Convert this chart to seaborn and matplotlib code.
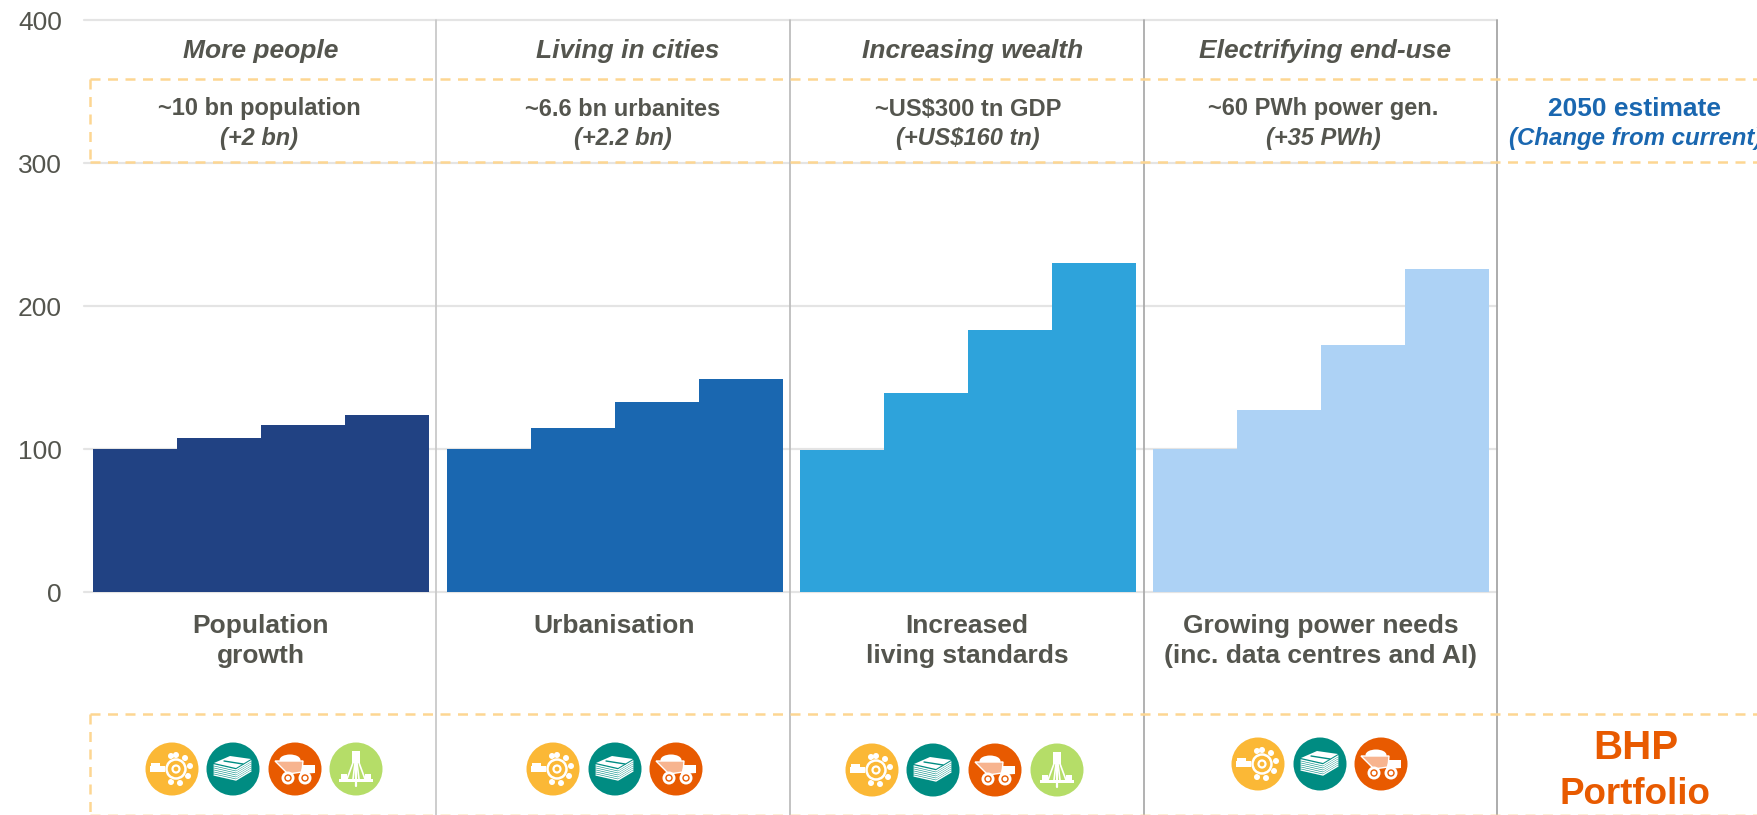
import matplotlib
matplotlib.use("Agg")
import matplotlib.pyplot as plt
from matplotlib.patches import Circle, Ellipse, Polygon, Rectangle
import pandas as pd
import seaborn as sns

# values, indexed to 100
steps = ["Step 1", "Step 2", "Step 3", "Step 4"]
people = [100, 108, 117, 124]
cities = [100, 115, 133, 149]
wealth = [99, 139, 183, 230]
power = [100, 127, 173, 226]

panel_values = [people, cities, wealth, power]
panel_colors = ["#214283", "#1A67B0", "#2EA3DB", "#ADD2F5"]
y_ticks = [0, 100, 200, 300, 400]

headers = ["More people", "Living in cities", "Increasing wealth", "Electrifying end-use"]
estimates = ["~10 bn population", "~6.6 bn urbanites", "~US$300 tn GDP", "~60 PWh power gen."]
changes = ["(+2 bn)", "(+2.2 bn)", "(+US$160 tn)", "(+35 PWh)"]
drivers = ["Population\ngrowth", "Urbanisation", "Increased\nliving standards",
           "Growing power needs\n(inc. data centres and AI)"]

W, H = 1757, 815
GREY = "#54554E"
BLUE = "#1A67B0"
ORANGE = "#E85A00"
DASH = "#FDD692"

sns.set_theme(style="white")
plt.rcParams["font.family"] = ["Liberation Sans", "DejaVu Sans"]

fig = plt.figure(figsize=(W / 100, H / 100), dpi=100)

# 1) the bars, one axes per panel
edges = [84, 436, 790, 1144, 1497]
bar_starts = [93, 447, 800, 1153]
bar_px = 84
top, bottom = 20, 592
for i, vals in enumerate(panel_values):
    ax = fig.add_axes([edges[i] / W, 1 - bottom / H, (edges[i + 1] - edges[i]) / W, (bottom - top) / H])
    df = pd.DataFrame({"step": steps, "value": vals})
    sns.barplot(data=df, x="step", y="value", color=panel_colors[i], saturation=1, width=1,
                linewidth=0, ax=ax)
    left = -0.5 - (bar_starts[i] - edges[i]) / bar_px
    ax.set_xlim(left, left + (edges[i + 1] - edges[i]) / bar_px)
    ax.set_ylim(0, 400)
    ax.set_xlabel("")
    ax.set_ylabel("")
    ax.set_xticks([])
    ax.set_yticks(y_ticks)
    ax.set_axisbelow(True)
    ax.grid(axis="y", color="#E4E4E4", lw=1.6)
    for g in ax.get_ygridlines():
        g.set_clip_on(False)
    sns.despine(ax=ax, left=True, bottom=True)
    if i == 0:
        ax.tick_params(axis="y", labelsize=19, labelcolor=GREY, length=0, pad=16)
    else:
        ax.tick_params(axis="y", labelleft=False, length=0)

# 2) overlay in pixel coordinates for boxes, text and icons
ov = fig.add_axes([0, 0, 1, 1], facecolor="none")
ov.set_xlim(0, W)
ov.set_ylim(H, 0)
ov.axis("off")

for x, c in zip(edges[1:], ["#C9C9C9", "#BDBDBD", "#ABABAB", "#A6A6A6"]):
    ov.plot([x, x], [top, H], color=c, lw=1.3, zorder=1)

dash_kw = dict(color=DASH, lw=1.8, dashes=(4, 3), zorder=2)
ov.plot([90, W], [79, 79], **dash_kw)
ov.plot([90, W], [162, 162], **dash_kw)
ov.plot([90, 90], [79, 162], **dash_kw)
ov.plot([90, W], [714, 714], **dash_kw)
ov.plot([90, W], [815, 815], color=DASH, lw=1.8, dashes=(4, 3), zorder=2, alpha=0.5)
ov.plot([90, 90], [714, H], **dash_kw)

header_x = [261, 628, 973, 1325]
est_x = [259, 623, 968, 1323]
driver_x = [261, 614, 967, 1321]
for i in range(4):
    ov.text(header_x[i], 51, headers[i], ha="center", va="center", fontsize=19,
            fontweight="bold", style="italic", color=GREY)
    ov.text(est_x[i], 109, estimates[i], ha="center", va="center", fontsize=17,
            fontweight="bold", color=GREY)
    ov.text(est_x[i], 138, changes[i], ha="center", va="center", fontsize=17,
            fontweight="bold", style="italic", color=GREY)
    ov.text(driver_x[i], 614, drivers[i], ha="center", va="top", fontsize=19,
            fontweight="bold", color=GREY, linespacing=1.3)

ov.text(1635, 109, "2050 estimate", ha="center", va="center", fontsize=19, fontweight="bold", color=BLUE)
ov.text(1636, 138, "(Change from current)", ha="center", va="center", fontsize=17.3,
        fontweight="bold", style="italic", color=BLUE)
ov.text(1636, 748, "BHP", ha="center", va="center", fontsize=29, fontweight="bold", color=ORANGE)
ov.text(1635, 794, "Portfolio", ha="center", va="center", fontsize=26.5, fontweight="bold", color=ORANGE)


# 3) commodity icons, rough white glyphs on coloured discs
def wheel(cx, cy):
    ov.add_patch(Circle((cx, cy), 26.5, color="#FBB836", lw=0, zorder=3))
    wx = cx + 4
    for dx, dy in [(0, -14), (9, -11), (14, -3), (12, 7), (4, 14), (-5, 13), (-5, -13)]:
        ov.add_patch(Circle((wx + dx, cy + dy), 3, color="white", lw=0, zorder=4))
    ov.add_patch(Circle((wx, cy), 11, color="#FBB836", lw=0, zorder=4))
    ov.add_patch(Circle((wx, cy), 9.5, fc="none", ec="white", lw=1.8, zorder=5))
    ov.add_patch(Circle((wx, cy), 3.5, fc="none", ec="white", lw=1.6, zorder=5))
    ov.add_patch(Rectangle((cx - 22, cy - 3), 15, 6, color="white", lw=0, zorder=5))
    ov.add_patch(Rectangle((cx - 21, cy - 6), 9, 4, color="white", lw=0, zorder=5))


def stack(cx, cy):
    ov.add_patch(Circle((cx, cy), 26.5, color="#008C82", lw=0, zorder=3))
    pts = [(cx - 19, cy - 6), (cx - 3, cy - 13), (cx + 18, cy - 10), (cx + 3, cy - 1)]
    ov.add_patch(Polygon(pts, color="white", lw=0, zorder=4))
    ov.plot([cx - 9, cx + 10], [cy - 8, cy - 5], color="#008C82", lw=1, zorder=5)
    for k in range(6):
        y = cy - 4 + k * 2
        ov.plot([cx - 19, cx + 3, cx + 18], [y, y + 5, y - 4], color="white", lw=1, zorder=4)


def truck(cx, cy):
    ov.add_patch(Circle((cx, cy), 26.5, color=ORANGE, lw=0, zorder=3))
    ov.add_patch(Ellipse((cx - 5, cy - 9), 21, 11, color="white", lw=0, zorder=4))
    ov.add_patch(Polygon([(cx - 20, cy - 8), (cx + 8, cy - 8), (cx + 7, cy + 3), (cx - 7, cy + 5)],
                         fc="#F7B48F", ec="white", lw=1, zorder=5))
    ov.add_patch(Polygon([(cx + 8, cy - 4), (cx + 20, cy - 4), (cx + 20, cy + 4), (cx + 5, cy + 5)],
                         color="white", lw=0, zorder=5))
    for dx in (-7, 10):
        ov.add_patch(Circle((cx + dx, cy + 9), 6.5, color="white", lw=0, zorder=6))
        ov.add_patch(Circle((cx + dx, cy + 9), 3, fc="none", ec=ORANGE, lw=1, zorder=7))


def drill(cx, cy):
    ov.add_patch(Circle((cx, cy), 26.5, color="#B5DD68", lw=0, zorder=3))
    ov.add_patch(Rectangle((cx - 4, cy - 18), 8, 12, color="white", lw=0, zorder=4))
    ov.add_patch(Rectangle((cx - 17, cy + 10), 34, 2.5, color="white", lw=0, zorder=4))
    ov.add_patch(Rectangle((cx - 15, cy + 5), 6, 6, color="white", lw=0, zorder=4))
    ov.add_patch(Rectangle((cx + 9, cy + 5), 6, 6, color="white", lw=0, zorder=4))
    for dx in (-9, -3, 3, 9):
        ov.plot([cx + dx * 0.3, cx + dx], [cy - 7, cy + 10], color="white", lw=1.2, zorder=4)
    ov.plot([cx, cx], [cy - 6, cy + 17], color="white", lw=1.6, zorder=4)


for draw, x, y in [(wheel, 172, 769), (stack, 233, 769), (truck, 295, 769), (drill, 356, 769),
                   (wheel, 553, 769), (stack, 615, 769), (truck, 676, 769),
                   (wheel, 872, 770), (stack, 933, 770), (truck, 995, 770), (drill, 1057, 770),
                   (wheel, 1258, 764), (stack, 1320, 764), (truck, 1381, 764)]:
    draw(x, y)

fig.savefig("out.png", dpi=100)
